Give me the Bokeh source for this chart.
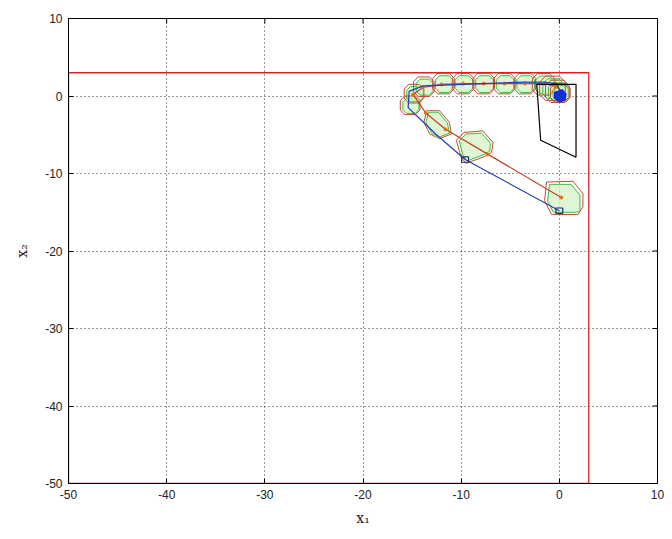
from bokeh.plotting import figure
from bokeh.models import FixedTicker
from bokeh.embed import file_html
from bokeh.resources import INLINE

# ---------------- data ----------------
# state constraint box
box_x = [-50, 3, 3, -50]
box_y = [-50, -50, 3, 3]

# terminal set (black)
term_x = [-2.3, 1.7, 1.7, -1.9]
term_y = [1.5, 1.5, -7.9, -5.7]

# nominal trajectory (red)
nom_x = [0.2, -7.3, -11.6, -13.6, -14.9, -13.9, -12.0, -9.8, -7.7, -5.6, -3.5, -1.5, -0.3, 0.3]
nom_y = [-13.1, -7.5, -4.3, -2.2, 0.2, 1.1, 1.5, 1.6, 1.6, 1.6, 1.6, 1.6, 1.2, 0.6]

# actual trajectory (blue)
act_x = [0.0, -9.6, -12.6, -14.0, -15.4, -15.3, -13.9, -11.8, -9.8, -7.7, -5.6, -3.6, -1.6, -0.3, 0.2]
act_y = [-14.8, -8.2, -4.9, -3.2, -1.5, 0.6, 1.3, 1.4, 1.5, 1.6, 1.7, 1.8, 1.8, 1.6, 0.4]

# large tube sections (explicit vertices)
big1_x = [-1.3, 1.4, 2.4, 2.4, 1.9, -0.8, -1.5]
big1_y = [-11.1, -11.0, -12.6, -14.3, -15.3, -15.3, -13.5]
big1g_x = [-1.0, 1.2, 2.1, 2.1, 1.7, -0.6, -1.2]
big1g_y = [-11.4, -11.4, -12.8, -14.9, -15.0, -15.0, -13.6]
big2_x = [-10.5, -9.7, -7.8, -6.75, -6.9, -7.4, -9.5, -10.0]
big2_y = [-5.7, -4.7, -4.5, -6.0, -7.25, -7.7, -8.7, -7.9]
big2g_x = [-10.2, -9.5, -7.9, -7.0, -7.1, -7.6, -9.4, -9.8]
big2g_y = [-5.8, -4.9, -4.8, -6.1, -7.1, -7.5, -8.4, -7.7]
big3_x = [-13.5, -12.2, -11.2, -11.0, -12.2, -13.2, -13.8]
big3_y = [-1.9, -1.9, -3.4, -4.9, -5.5, -4.9, -3.4]
big3g_x = [-13.3, -12.3, -11.4, -11.2, -12.2, -13.0, -13.6]
big3g_y = [-2.1, -2.1, -3.5, -4.8, -5.3, -4.8, -3.4]

# smaller tube sections along the arc: centres and half sizes
arc_cx = [-15.2, -14.8, -13.8, -11.8, -9.8, -7.7, -5.6, -3.5, -1.6, -0.7, -0.2, 0.1]
arc_cy = [-1.2, 0.3, 1.2, 1.6, 1.6, 1.6, 1.6, 1.6, 1.5, 1.0, 0.6, 0.4]
arc_r = [1.0, 1.0, 1.05, 1.1, 1.1, 1.1, 1.1, 1.1, 1.15, 1.3, 1.2, 1.0]
oct_dx = [-1.0, -0.55, 0.55, 1.0, 1.0, 0.55, -0.55, -1.0]
oct_dy = [0.6, 1.2, 1.2, 0.6, -0.6, -1.2, -1.2, -0.6]

# final disturbance blob (blue)
blob_x = [-0.5, 0.3, 0.7, 0.6, 0.0, -0.5]
blob_y = [0.5, 0.8, 0.3, -0.5, -0.8, -0.3]

# small disturbance squares on the actual trajectory
sq_cx = [0.0, -9.6]
sq_cy = [-14.8, -8.2]
sq_r = 0.35

ticks = [-50, -40, -30, -20, -10, 0, 10]
tick_labels = {t: str(t) for t in ticks}
x_lo, x_hi = -50, 10
y_lo, y_hi = -50, 10

# ---------------- figure ----------------
p = figure(width=668, height=535, x_range=(x_lo, x_hi), y_range=(y_lo, y_hi),
           output_backend="svg", toolbar_location=None,
           min_border_left=68, min_border_right=11, min_border_top=18, min_border_bottom=52)
p.background_fill_color = "white"
p.border_fill_color = "white"
p.outline_line_color = "black"
p.outline_line_width = 1

for ax in (p.xaxis[0], p.yaxis[0]):
    ax.ticker = FixedTicker(ticks=ticks)
    ax.major_label_overrides = tick_labels
    ax.major_tick_in = 5
    ax.major_tick_out = 0
    ax.minor_tick_line_color = None
    ax.axis_line_color = "black"
    ax.major_tick_line_color = "black"
    ax.major_label_text_font = "Liberation Sans"
    ax.major_label_text_font_size = "12px"
    ax.major_label_text_color = "#222222"
    ax.axis_label_text_font = "DejaVu Serif"
    ax.axis_label_text_font_style = "normal"
    ax.axis_label_text_font_size = "14px"
    ax.axis_label_text_color = "#222222"

p.xaxis[0].axis_label = "x\u2081"
p.yaxis[0].axis_label = "x\u2082"
p.xaxis[0].major_label_standoff = 6
p.yaxis[0].major_label_standoff = 6
p.xaxis[0].axis_label_standoff = 8
p.yaxis[0].axis_label_standoff = 12

for g in (p.xgrid[0], p.ygrid[0]):
    g.ticker = FixedTicker(ticks=ticks)
    g.grid_line_color = "black"
    g.grid_line_dash = "1 3"
    g.grid_line_alpha = 0.8
    g.grid_line_width = 1

# inward ticks on the top and right edges of the box
tick_len_x = (x_hi - x_lo) * 5 / 589
tick_len_y = (y_hi - y_lo) * 5 / 465
p.segment(x0=ticks, y0=[y_hi] * len(ticks), x1=ticks, y1=[y_hi - tick_len_y] * len(ticks),
          line_color="black", line_width=1)
p.segment(x0=[x_hi] * len(ticks), y0=ticks, x1=[x_hi - tick_len_x] * len(ticks), y1=ticks,
          line_color="black", line_width=1)

# ---------------- tube sections ----------------
def octagon(cx, cy, r, s=1.0, sx=0.0, sy=0.0):
    return ([cx + sx + r * s * d for d in oct_dx], [cy + sy + r * s * d for d in oct_dy])

red_xs, red_ys, grn_xs, grn_ys = [], [], [], []
for cx, cy, r in zip(arc_cx, arc_cy, arc_r):
    xs, ys = octagon(cx, cy, r)
    red_xs.append(xs); red_ys.append(ys)
    xs, ys = octagon(cx, cy, r, 0.82, 0.08, -0.06)
    grn_xs.append(xs); grn_ys.append(ys)

red_xs += [big1_x, big2_x, big3_x]
red_ys += [big1_y, big2_y, big3_y]
grn_xs += [big1g_x, big2g_x, big3g_x]
grn_ys += [big1g_y, big2g_y, big3g_y]

p.patches(grn_xs, grn_ys, fill_color="#d4f2c4", fill_alpha=0.75,
          line_color="#3cc03c", line_width=1)
p.patches(red_xs, red_ys, fill_color=None, line_color="#c04a38", line_width=1)

# nominal trajectory
p.line(nom_x, nom_y, line_color="#c0402a", line_width=1.2)
p.scatter(nom_x, nom_y, size=3, color="#e0701a")

# actual trajectory
p.line(act_x, act_y, line_color="#2040b0", line_width=1.2)
sq_xs = [[cx - sq_r, cx + sq_r, cx + sq_r, cx - sq_r] for cx in sq_cx]
sq_ys = [[cy + sq_r, cy + sq_r, cy - sq_r, cy - sq_r] for cy in sq_cy]
p.patches(sq_xs, sq_ys, fill_color=None, line_color="#203070", line_width=1.2)
p.patch(blob_x, blob_y, fill_color="#1030e0", line_color="#1020c0", line_width=1)

# terminal set
p.patch(term_x, term_y, fill_color=None, line_color="black", line_width=1.2)

# constraint box
p.patch(box_x, box_y, fill_color=None, line_color="#e02020", line_width=1.3)

open("out.html", "w").write(file_html(p, INLINE))
